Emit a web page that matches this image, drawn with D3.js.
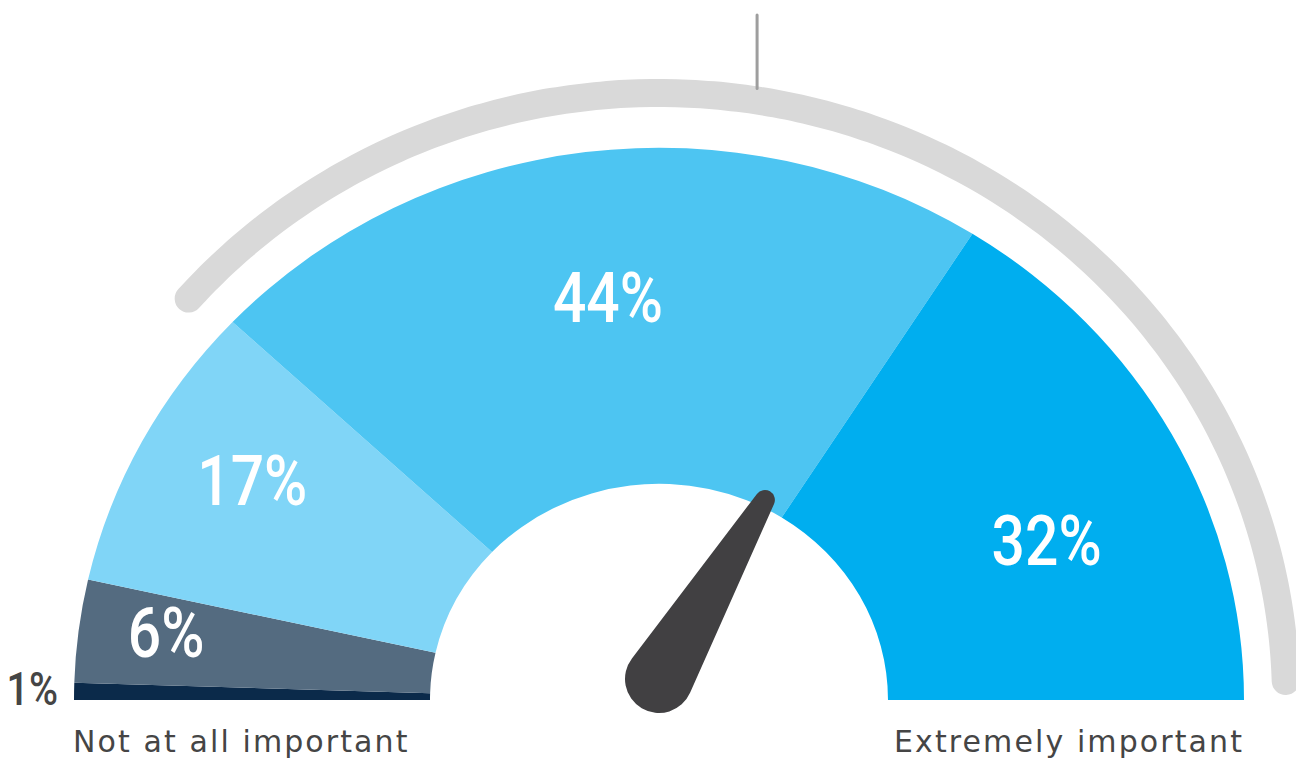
<!DOCTYPE html>
<html>
<head>
<meta charset="utf-8">
<script src="https://cdn.jsdelivr.net/npm/d3@7"></script>
<style>
  body { margin: 0; background: #fff; }
  svg { display: block; }
</style>
</head>
<body>
<div id="chart"></div>
<script>
// Data
const categories = ['Not at all important', 'Slightly important', 'Moderately important', 'Very important', 'Extremely important'];
const values = [1, 6, 17, 44, 32];
const colors = ['#0b2a4a', '#546b80', '#80d5f7', '#4dc5f2', '#00aeef'];
const scaleEnds = ['Not at all important', 'Extremely important'];
const needleValue = 67;   // position of the needle on the 0-100 scale
const markerValue = 55;   // small tick above the track
const trackRange = [23, 99];

// Canvas
const width = 1296;
const height = 761;
const cx = 659;
const cy = 700;
const outerR = 585;
const innerR = 229;
const squash = 0.944;

const svg = d3.select('#chart')
  .append('svg')
  .attr('width', width)
  .attr('height', height);

// 0..100 along the dial -> angle (d3.arc convention, 0 = up)
const angle = d3.scaleLinear().domain([0, 100]).range([-Math.PI / 2, Math.PI / 2]);

// Grey track round the gauge
const trackRx = 627;
const trackRy = 607;
const trackLine = d3.line()
  .x((a) => cx + trackRx * Math.sin(a))
  .y((a) => cy - trackRy * Math.cos(a))
  .curve(d3.curveCatmullRom);
const a0 = angle(trackRange[0]);
const a1 = angle(trackRange[1]);
svg.append('path')
  .attr('d', trackLine(d3.range(0, 121).map((i) => a0 + (a1 - a0) * i / 120)))
  .attr('fill', 'none')
  .attr('stroke', '#d9d9d9')
  .attr('stroke-width', 28)
  .attr('stroke-linecap', 'round');

// Marker tick
const mA = angle(markerValue);
const mX = cx + trackRx * Math.sin(mA);
const mY = cy - trackRy * Math.cos(mA) - 14;
svg.append('line')
  .attr('x1', mX).attr('x2', mX)
  .attr('y1', 15).attr('y2', mY + 2)
  .attr('stroke', '#9e9e9e')
  .attr('stroke-width', 3)
  .attr('stroke-linecap', 'round');

// Segments
const pie = d3.pie().sort(null).startAngle(-Math.PI / 2).endAngle(Math.PI / 2);
const arcs = pie(values);
const arc = d3.arc().innerRadius(innerR).outerRadius(outerR);

const gauge = svg.append('g')
  .attr('transform', `translate(${cx}, ${cy}) scale(1, ${squash})`);

gauge.selectAll('path')
  .data(arcs).enter()
  .append('path')
  .attr('d', arc)
  .attr('fill', (d, i) => colors[i]);

// Value labels (narrow type: Roboto squeezed horizontally)
const labelNudge = [[0, 0], [-89, -20], [-47, -40], [0, -22], [31, 25]];
const labelArc = d3.arc().innerRadius((innerR + outerR) / 2 - 0.5).outerRadius((innerR + outerR) / 2 + 0.5);
const pctFont = 'Roboto, sans-serif';
const narrow = 0.84;

arcs.forEach((d, i) => {
  let x; let y; let size; let fill; let anchor;
  if (i === 0) {
    x = cx - outerR - 16;
    y = 705;
    size = 47;
    fill = '#454545';
    anchor = 'end';
  } else {
    const c = labelArc.centroid(d);
    x = cx + c[0] + labelNudge[i][0];
    y = cy + c[1] * squash + labelNudge[i][1] + 25;
    size = 70;
    fill = '#fff';
    anchor = 'middle';
  }
  svg.append('g')
    .attr('transform', `translate(${x}, ${y}) scale(${narrow}, 1)`)
    .append('text')
    .attr('text-anchor', anchor)
    .attr('font-family', pctFont)
    .attr('font-weight', 500)
    .attr('font-size', size)
    .attr('fill', fill)
    .text(`${values[i]}%`);
});

// Needle
const pivot = [659, 679];
const r1 = 34;
const r2 = 10;
const len = 208;
const ny = -(r1 - r2) / len;
const nx = Math.sqrt(1 - ny * ny);
const needlePath = [
  `M${r1 * nx},${r1 * ny}`,
  `L${r2 * nx},${-len + r2 * ny}`,
  `A${r2},${r2} 0 0 0 ${-r2 * nx},${-len + r2 * ny}`,
  `L${-r1 * nx},${r1 * ny}`,
  `A${r1},${r1} 0 1 0 ${r1 * nx},${r1 * ny}`,
  'Z',
].join(' ');
svg.append('path')
  .attr('d', needlePath)
  .attr('fill', '#414042')
  .attr('transform', `translate(${pivot[0]}, ${pivot[1]}) rotate(${(angle(needleValue) * 180) / Math.PI})`);

// Scale end labels
const endFont = "'DejaVu Sans', sans-serif";
svg.append('text')
  .attr('x', cx - outerR - 1)
  .attr('y', 752)
  .attr('font-family', endFont)
  .attr('font-size', 30)
  .attr('letter-spacing', 2.1)
  .attr('fill', '#454545')
  .text(scaleEnds[0]);

svg.append('text')
  .attr('x', cx + outerR)
  .attr('y', 752)
  .attr('text-anchor', 'end')
  .attr('font-family', endFont)
  .attr('font-size', 30)
  .attr('letter-spacing', 2.1)
  .attr('fill', '#454545')
  .text(scaleEnds[1]);
</script>
</body>
</html>
